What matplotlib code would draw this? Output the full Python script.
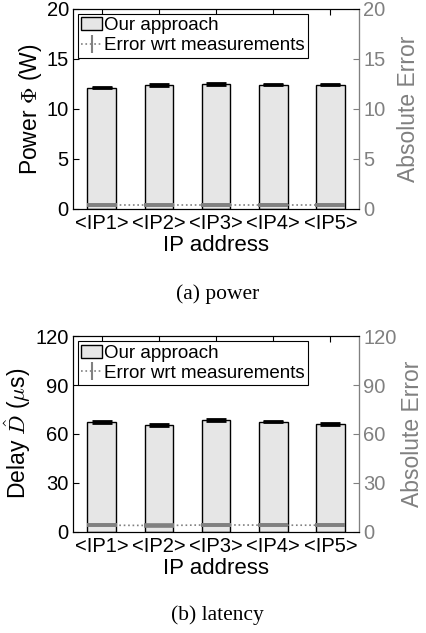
import matplotlib
matplotlib.use("Agg")
import matplotlib.pyplot as plt
from matplotlib.lines import Line2D
from matplotlib.patches import Patch
import numpy as np

categories = ["<IP1>", "<IP2>", "<IP3>", "<IP4>", "<IP5>"]
power_vals = [12.1, 12.4, 12.5, 12.4, 12.4]
power_std = [0.06, 0.07, 0.07, 0.06, 0.06]
power_err = [0.4, 0.4, 0.4, 0.4, 0.4]
delay_vals = [67.5, 65.5, 68.5, 67.5, 66.0]
delay_std = [0.5, 0.5, 0.4, 0.4, 0.4]
delay_err = [4.0, 3.8, 4.2, 4.0, 4.0]

plt.rcParams['font.family'] = ['Liberation Sans', 'DejaVu Sans']
plt.rcParams['mathtext.fontset'] = 'cm'

fig = plt.figure(figsize=(4.27, 6.33), dpi=100)
gray = '#808080'

def panel(rect, vals, std, err, ymax, yticks, ylabel, caption, cap_y, rpad):
    ax = fig.add_axes(rect)
    x = np.arange(1, len(categories) + 1)
    ax.bar(x, vals, width=0.5, color='#e6e6e6', edgecolor='black', linewidth=1.0, zorder=2)
    ax.errorbar(x, vals, yerr=std, fmt='none', ecolor='black', capsize=7.5, capthick=2.0, elinewidth=1, zorder=3)
    ax.set_xlim(0.5, len(categories) + 0.5)
    ax.set_ylim(0, ymax)
    ax.set_yticks(yticks)
    ax.set_xticks(x)
    ax.set_xticklabels(categories)
    ax.tick_params(direction='in', labelsize=14.5, length=4, top=True, pad=3)
    ax.tick_params(axis='x', pad=4)
    ax.set_xlabel("IP address", fontsize=16, labelpad=1)
    ax.set_ylabel(ylabel, fontsize=16.5, labelpad=2)
    ax2 = ax.twinx()
    ax2.set_ylim(0, ymax)
    ax2.set_yticks(yticks)
    ax2.tick_params(direction='in', labelsize=14.5, length=4, colors=gray, pad=3)
    ax2.spines['right'].set_color(gray)
    ax2.set_ylabel("Absolute Error", fontsize=16.5, color=gray, labelpad=rpad)
    ax2.plot(x, err, linestyle=':', color=gray, linewidth=1.2, zorder=3)
    ax2.errorbar(x, err, yerr=[e * 0.01 for e in err], fmt='none', ecolor=gray,
                 capsize=10.5, capthick=2.6, elinewidth=1, zorder=4)
    handles = [Patch(facecolor='#e6e6e6', edgecolor='black', linewidth=1.0),
               Line2D([0], [0], color=gray, linestyle=':', linewidth=1.2,
                      marker='|', markersize=13, markeredgewidth=1.5)]
    leg = ax.legend(handles, ["Our approach", "Error wrt measurements"], loc='upper left',
                    fontsize=13.5, frameon=True, fancybox=False, edgecolor='black',
                    borderpad=0.2, labelspacing=0.15, handlelength=1.1, handletextpad=0.1,
                    borderaxespad=0.25, framealpha=1)
    leg.get_frame().set_linewidth(0.8)
    fig.text(0.51, cap_y, caption, ha='center', va='center', fontsize=15.5,
             family='Liberation Serif')
    return ax

panel([0.171, 0.670, 0.670, 0.316], power_vals, power_std, power_err, 20,
      [0, 5, 10, 15, 20], r"Power $\Phi$ (W)", "(a) power", 1 - 294 / 633, 8)
panel([0.171, 0.160, 0.670, 0.309], delay_vals, delay_std, delay_err, 120,
      [0, 30, 60, 90, 120], r"Delay $\hat{D}$ ($\mu$s)", "(b) latency", 1 - 615 / 633, 3)

fig.savefig("out.png", dpi=100)
